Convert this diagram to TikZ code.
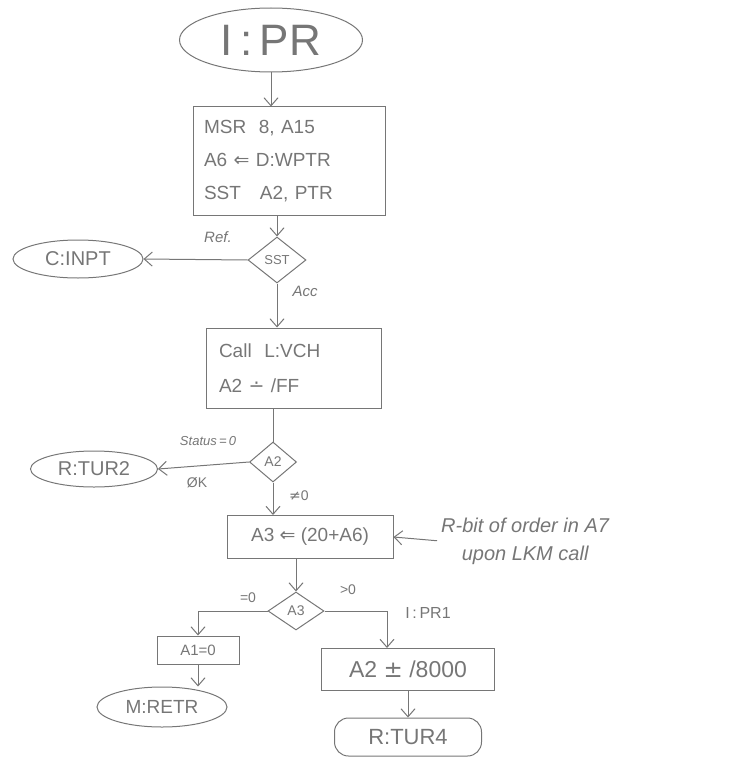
\documentclass[tikz,border=0pt]{standalone}
\usepackage{fontspec}
\setmainfont{Liberation Sans}
\newfontfamily\symf{DejaVu Sans}
\usetikzlibrary{shapes.geometric,arrows.meta}
\definecolor{pencil}{RGB}{118,118,118}
\newcommand{\fs}[2]{\fontsize{#1}{#2}\selectfont}
\tikzset{
  base/.style={draw=pencil, line width=1pt, text=pencil, inner sep=2pt},
  term/.style={base, ellipse},
  box/.style={base, rectangle},
  stadium/.style={base, rectangle, rounded corners=14pt},
  decision/.style={base, diamond, inner sep=0pt},
  lbl/.style={text=pencil, inner sep=1pt},
  link/.style={draw=pencil, line width=1pt},
  flow/.style={link, -{Straight Barb[length=8pt,width=14pt]}}
}
\begin{document}
\begin{tikzpicture}[x=1pt,y=-1pt]
\useasboundingbox (0,0) rectangle (734,757);
% nodes
\node[term, minimum width=183, minimum height=64, font=\fs{44}{48}] (start) at (271,40) {I\,:\,PR};
\node[box, minimum width=192, minimum height=108, align=left, text width=170, inner xsep=11pt, font=\fs{19}{33}] (b1) at (289,161)
  {MSR \ 8, A15\\A6 {\symf ⇐} D:WPTR\\SST \ \ A2, PTR};
\node[decision, minimum width=58, minimum height=46, font=\fs{13}{15}] (sst) at (277,260) {SST};
\node[term, minimum width=130, minimum height=38, font=\fs{20}{22}] (cinpt) at (78,259) {C:INPT};
\node[box, minimum width=175, minimum height=80, align=left, text width=150, inner xsep=12.5pt, font=\fs{19}{35}] (b2) at (294,368)
  {Call \ L:VCH\\A2 {\symf ∸} /FF};
\node[decision, minimum width=47, minimum height=40, font=\fs{14}{16}] (a2) at (273,462) {A2};
\node[term, minimum width=127, minimum height=36, font=\fs{20}{22}] (tur2) at (94,469) {R:TUR2};
\node[box, minimum width=166, minimum height=43, font=\fs{19}{22}] (b3) at (310,537) {A3 {\symf ⇐} (20+A6)};
\node[lbl, anchor=west, align=center, font=\itshape\fs{20}{28}] (note) at (440,541)
  {R-bit of order in A7\\upon LKM call};
\node[decision, minimum width=56, minimum height=38, font=\fs{14}{16}] (a3) at (296,611) {A3};
\node[box, minimum width=82, minimum height=28, font=\fs{15}{17}] (a1) at (198,650) {A1=0};
\node[term, minimum width=130, minimum height=40, font=\fs{19}{21}] (retr) at (162,707) {M:RETR};
\node[box, minimum width=173, minimum height=42, font=\fs{23}{25}] (b4) at (408,669) {A2 {\symf ±} /8000};
\node[stadium, minimum width=147, minimum height=38, font=\fs{22}{24}] (tur4) at (408,737) {R:TUR4};
% labels
\node[lbl, font=\itshape\fs{15}{17}] (lref) at (218,237) {Ref.};
\node[lbl, font=\itshape\fs{15}{17}] (lacc) at (305,291) {Acc};
\node[lbl, font=\itshape\fs{13}{15}] (lstat) at (208,441) {Status\,=\,0};
\node[lbl, font=\fs{14}{16}] (lok) at (197,483) {ØK};
\node[lbl, font=\fs{14}{16}] (lne) at (299,496) {{\symf ≠}0};
\node[lbl, font=\fs{14}{16}] (leq) at (248,598) {=0};
\node[lbl, font=\fs{14}{16}] (lgt) at (348,590) {>0};
\node[lbl, font=\fs{16}{18}] (lpr1) at (428,613) {I\,:\,PR1};
\coordinate (gtdrop) at (387,648);
% connectors
\draw[flow] (start.south) -- (start.south |- b1.north);
\draw[flow] (sst.north |- b1.south) -- (sst.north);
\draw[flow] (sst.west) -- (cinpt.east);
\draw[flow] (sst.south) -- (sst.south |- b2.north);
\draw[link] (a2.north |- b2.south) -- (a2.north);
\draw[flow] (a2.west) -- (tur2.east);
\draw[flow] (a2.south) -- (a2.south |- b3.north);
\draw[flow, shorten <=3pt] (note.west) -- (b3.east);
\draw[flow] (a3.north |- b3.south) -- (a3.north);
\draw[flow] (a3.west) -| (a1.north);
\draw[flow] (a3.east) -| (gtdrop);
\draw[flow] (a1.south) -- (a1.south |- retr.north);
\draw[flow] (b4.south) -- (tur4.north);
\end{tikzpicture}
\end{document}
